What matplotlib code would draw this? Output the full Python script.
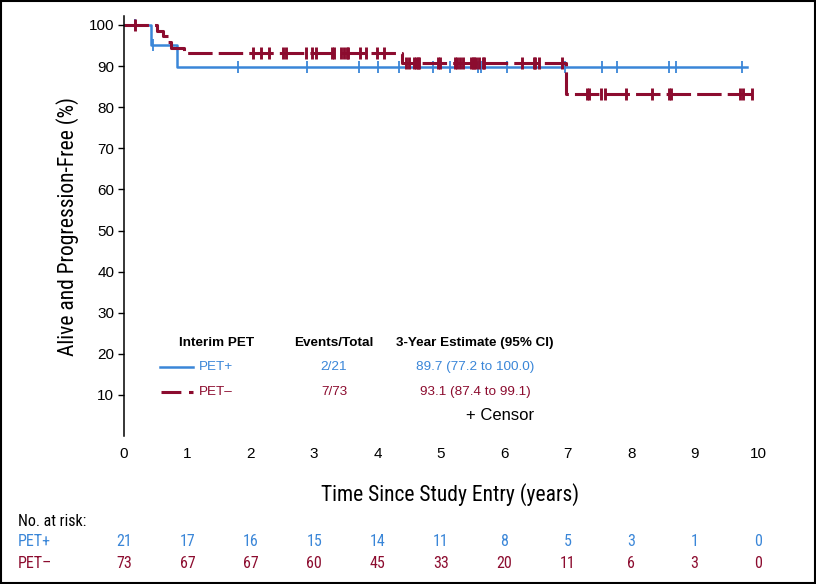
import numpy as np
import matplotlib.pyplot as plt
from matplotlib import font_manager, transforms

# fonts: condensed face for axis titles / risk table if present
names = {f.name for f in font_manager.fontManager.ttflist}
narrow = 'Roboto'
for cand in ['Liberation Sans Narrow', 'Roboto Condensed', 'Open Sans Condensed']:
    if cand in names:
        narrow = cand
        break
plt.rcParams['font.family'] = ['Liberation Sans', 'DejaVu Sans']

BLUE = '#3a86d8'
RED = '#8c0c2f'

# --- DATA ---
# PET+ Kaplan-Meier steps (years, % alive and progression-free)
pos_t = [0.0, 0.42, 0.83, 9.82]
pos_s = [100.0, 95.2, 89.7, 89.7]
pos_cens = [0.18, 0.46, 1.80, 2.88, 3.71, 4.00, 4.34, 4.88, 5.14, 5.58, 5.63,
            6.04, 6.95, 7.54, 7.77, 8.60, 8.71, 9.74]

# PET- Kaplan-Meier steps
neg_t = [0.0, 0.52, 0.62, 0.69, 0.74, 0.95, 4.38, 6.97, 9.98]
neg_s = [100.0, 98.6, 97.3, 95.9, 94.5, 93.1, 90.8, 83.2, 83.2]
neg_cens = [0.17, 2.03, 2.16, 2.29, 2.50, 2.55, 2.87, 2.97, 3.03, 3.28, 3.31,
            3.43, 3.47, 3.51, 3.54, 3.73, 3.81, 3.99, 4.10,
            4.45, 4.50, 4.58, 4.61, 4.64, 4.66, 4.95, 4.99, 5.22, 5.26, 5.30,
            5.34, 5.47, 5.50, 5.52, 5.55, 5.60, 5.66, 5.68, 6.28, 6.46, 6.49,
            6.54, 6.91, 7.31, 7.33, 7.53, 7.58, 7.92, 8.33, 8.59, 8.63, 9.72,
            9.76, 9.90]

risk_times = list(range(11))
risk_pos = [21, 17, 16, 15, 14, 11, 8, 5, 3, 1, 0]
risk_neg = [73, 67, 67, 60, 45, 33, 20, 11, 6, 3, 0]

legend_rows = [('PET+', '2/21', '89.7 (77.2 to 100.0)'),
               ('PET\u2013', '7/73', '93.1 (87.4 to 99.1)')]


def step_at(times, surv, x):
    idx = np.searchsorted(times, x, side='right') - 1
    return np.asarray(surv)[idx]


W, H = 816, 584
fig = plt.figure(figsize=(W / 100, H / 100), dpi=100)


def fx(px):
    return px / W


def fy(py):
    return 1 - py / H


# axes: x=0 at px 124, x=10 at px 758; y=100 at px 25, y=10 at px 395
x0, x10 = 124, 758
y100, y10 = 25, 395
ppu = (y10 - y100) / 90.0
ybot = y100 + 100 * ppu
xright = x10 + 0.3 * (x10 - x0) / 10
ytop_val = 102.2
ytop = y100 - (ytop_val - 100) * ppu
ax = fig.add_axes([fx(x0), fy(ybot), fx(xright) - fx(x0), (ybot - ytop) / H])
ax.set_xlim(0, 10.3)
ax.set_ylim(0, ytop_val)

ax.plot(pos_t, pos_s, drawstyle='steps-post', color=BLUE, lw=1.8)
ax.plot(pos_cens, step_at(pos_t, pos_s, pos_cens), ls='none', marker='|',
        ms=9, mew=1.3, color=BLUE)

ax.plot(neg_t, neg_s, drawstyle='steps-post', color=RED, lw=2.2,
        dashes=(8, 2))
ax.plot(neg_cens, step_at(neg_t, neg_s, neg_cens), ls='none', marker='|',
        ms=9, mew=2.1, color=RED)

for s in ['top', 'right', 'bottom']:
    ax.spines[s].set_visible(False)
ax.spines['left'].set_linewidth(1.1)
ax.set_yticks(range(10, 101, 10))
ax.set_xticks(risk_times)
ax.tick_params(axis='y', length=4, width=1, labelsize=11, pad=3)
ax.tick_params(axis='x', length=0, labelsize=11, pad=8)
ax.set_ylabel('Alive and Progression-Free (%)', fontsize=15.5, family=narrow,
              labelpad=7)
ax.set_xlabel('Time Since Study Entry (years)', fontsize=15.5, family=narrow,
              labelpad=16)

# legend table
fs = 9.7
fig.text(fx(217), fy(343), 'Interim PET', ha='center', va='center',
         fontsize=fs, weight='bold')
fig.text(fx(334), fy(343), 'Events/Total', ha='center', va='center',
         fontsize=fs, weight='bold')
fig.text(fx(475), fy(343), '3-Year Estimate (95% CI)', ha='center',
         va='center', fontsize=fs, weight='bold')
row_y = [367, 392]
colors = [BLUE, RED]
for (lab, ev, est), ry, c in zip(legend_rows, row_y, colors):
    if c == BLUE:
        fig.add_artist(plt.Line2D([fx(160), fx(193)], [fy(ry), fy(ry)],
                                  color=c, lw=1.8))
    else:
        fig.add_artist(plt.Line2D([fx(161), fx(193)], [fy(ry), fy(ry)],
                                  color=c, lw=2.2, dashes=(6.5, 2.5)))
    fig.text(fx(199), fy(ry), lab, ha='left', va='center', fontsize=fs, color=c)
    fig.text(fx(334), fy(ry), ev, ha='center', va='center', fontsize=fs, color=c)
    fig.text(fx(475), fy(ry), est, ha='center', va='center', fontsize=fs,
             color=c)
fig.text(fx(500), fy(416), '+ Censor', ha='center', va='center', fontsize=12)

# number at risk
trans = transforms.blended_transform_factory(ax.transData, fig.transFigure)
rfs = 11.5
fig.text(fx(18), fy(522), 'No. at risk:', ha='left', va='center',
         fontsize=rfs, family=narrow)
for lab, vals, ry, c in [('PET+', risk_pos, 542, BLUE),
                         ('PET\u2013', risk_neg, 563, RED)]:
    fig.text(fx(18), fy(ry), lab, ha='left', va='center', fontsize=rfs,
             family=narrow, color=c)
    for t, v in zip(risk_times, vals):
        ax.text(t, fy(ry), str(v), transform=trans, ha='center', va='center',
                fontsize=rfs, family=narrow, color=c)

# frame around the whole figure
fig.add_artist(plt.Rectangle((0.001, 0.001), 0.998, 0.998,
                             transform=fig.transFigure, fill=False,
                             edgecolor='black', lw=1.5))

fig.savefig('out.png', dpi=100)
